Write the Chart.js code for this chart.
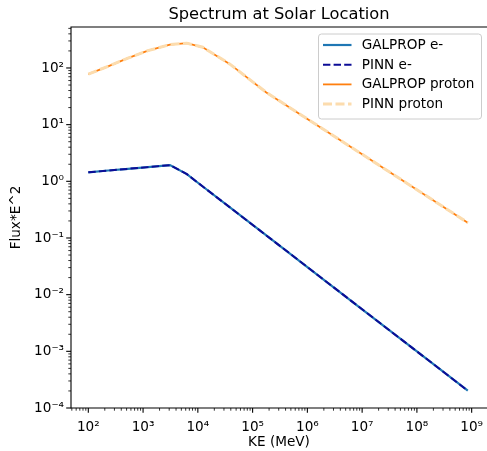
<!DOCTYPE html>
<html>
<head>
<meta charset="utf-8">
<script src="https://cdn.jsdelivr.net/npm/chart.js@4.4.1/dist/chart.umd.min.js"></script>
<style>
  html, body { margin: 0; padding: 0; background: #ffffff; }
  canvas { display: block; }
</style>
</head>
<body>
<canvas id="chart" width="487" height="451"></canvas>
<script>
// kinetic energy grid (MeV)
const energies = [1e2, 2.3e2, 5.3e2, 1.23e3, 3.1e3, 6.3e3, 1.23e4, 3.8e4, 1.78e5, 1e6, 1e7, 1e8, 8.5e8];

// flux * E^2
const galpropElectron = [1.44, 1.55, 1.66, 1.78, 1.93, 1.34, 0.81, 0.35, 0.111, 0.0307, 0.00552, 0.000995, 0.000202];
const pinnElectron = [1.44, 1.55, 1.66, 1.78, 1.93, 1.34, 0.81, 0.35, 0.111, 0.0307, 0.00552, 0.000995, 0.000202];
const galpropProton = [78, 107, 149, 202, 258, 274, 232, 118, 37, 12.6, 3.0, 0.71, 0.186];
const pinnProton = [78, 107, 149, 202, 258, 274, 232, 118, 37, 12.6, 3.0, 0.71, 0.186];

const seriesLabels = ['GALPROP e-', 'PINN e-', 'GALPROP proton', 'PINN proton'];

const xTickValues = [1e2, 1e3, 1e4, 1e5, 1e6, 1e7, 1e8, 1e9];
const yTickValues = [1e-4, 1e-3, 1e-2, 1e-1, 1e0, 1e1, 1e2];

const FONT = 'DejaVu Sans';
Chart.defaults.font.family = FONT;
Chart.defaults.color = '#000000';

// 10^n with a unicode superscript exponent
const SUP = {
  0: '⁰', 1: '¹', 2: '²', 3: '³', 4: '⁴', 5: '⁵', 6: '⁶', 7: '⁷', 8: '⁸', 9: '⁹', '-': '⁻',
};
function powerLabel(value) {
  const exp = Math.round(Math.log10(value));
  return `10${String(exp).split('').map((c) => SUP[c]).join('')}`;
}

const toPoints = (values) => values.map((y, i) => ({ x: energies[i], y }));

// frame + major / minor ticks, matplotlib style
const axisFrame = {
  id: 'axisFrame',
  afterDraw(chart) {
    const {
      ctx, chartArea: {
        left, top, right, bottom,
      }, scales: { x, y },
    } = chart;
    ctx.save();
    ctx.strokeStyle = '#000000';

    const tick = (x1, y1, x2, y2, w) => {
      ctx.lineWidth = w;
      ctx.beginPath();
      ctx.moveTo(x1, y1);
      ctx.lineTo(x2, y2);
      ctx.stroke();
    };

    for (let e = 1; e <= 9; e += 1) {
      for (let m = 1; m <= 9; m += 1) {
        const v = m * 10 ** e;
        if (v >= x.min && v <= x.max) {
          const px = x.getPixelForValue(v);
          if (m === 1) tick(px, bottom, px, bottom + 4.8, 1.1);
          else tick(px, bottom, px, bottom + 2.7, 0.8);
        }
      }
    }
    for (let e = -4; e <= 2; e += 1) {
      for (let m = 1; m <= 9; m += 1) {
        const v = m * 10 ** e;
        if (v >= y.min * 0.999 && v <= y.max) {
          const py = y.getPixelForValue(v);
          if (m === 1) tick(left, py, left - 4.8, py, 1.1);
          else tick(left, py, left - 2.7, py, 0.8);
        }
      }
    }

    ctx.lineWidth = 1.1;
    ctx.beginPath();
    ctx.moveTo(right, top);
    ctx.lineTo(left, top);
    ctx.lineTo(left, bottom);
    ctx.lineTo(right, bottom);
    ctx.stroke();

    // title
    ctx.fillStyle = '#000000';
    ctx.font = `16.3px "${FONT}"`;
    ctx.textAlign = 'center';
    ctx.textBaseline = 'alphabetic';
    ctx.fillText('Spectrum at Solar Location', 279, 19);
    ctx.restore();
  },
};

// hand-drawn legend box
const boxLegend = {
  id: 'boxLegend',
  afterDraw(chart) {
    const { ctx } = chart;
    const x0 = 318.5;
    const y0 = 34;
    const w = 163;
    const h = 85;
    ctx.save();
    ctx.beginPath();
    ctx.roundRect(x0, y0, w, h, 3);
    ctx.fillStyle = 'rgba(255,255,255,0.8)';
    ctx.fill();
    ctx.strokeStyle = '#cccccc';
    ctx.lineWidth = 1;
    ctx.stroke();

    ctx.font = `13.6px "${FONT}"`;
    ctx.textAlign = 'left';
    ctx.textBaseline = 'middle';
    chart.data.datasets.forEach((ds, i) => {
      const ry = 45 + i * 19.7;
      ctx.strokeStyle = ds.borderColor;
      ctx.lineWidth = ds.borderWidth;
      ctx.setLineDash(ds.borderDash || []);
      ctx.beginPath();
      ctx.moveTo(323, ry);
      ctx.lineTo(351.5, ry);
      ctx.stroke();
      ctx.setLineDash([]);
      ctx.fillStyle = '#000000';
      ctx.fillText(ds.label, 361.7, ry + 0.5);
    });
    ctx.restore();
  },
};

const lineDefaults = {
  pointRadius: 0, pointHoverRadius: 0, tension: 0, fill: false,
};

const data = {
  datasets: [
    {
      ...lineDefaults,
      label: seriesLabels[0],
      data: toPoints(galpropElectron),
      borderColor: '#1f77b4',
      borderWidth: 2.2,
      order: 2,
    },
    {
      ...lineDefaults,
      label: seriesLabels[1],
      data: toPoints(pinnElectron),
      borderColor: '#0c0c96',
      borderWidth: 2,
      borderDash: [7.4, 3.2],
      order: 1,
    },
    {
      ...lineDefaults,
      label: seriesLabels[2],
      data: toPoints(galpropProton),
      borderColor: '#ff7f0e',
      borderWidth: 1.8,
      order: 2,
    },
    {
      ...lineDefaults,
      label: seriesLabels[3],
      data: toPoints(pinnProton),
      borderColor: '#fcdcae',
      borderWidth: 3,
      borderDash: [9, 3.5],
      order: 1,
    },
  ],
};

const chart = new Chart(document.getElementById('chart'), {
  type: 'line',
  data,
  options: {
    responsive: false,
    animation: false,
    events: [],
    layout: {
      padding: {
        top: 27, left: 0, right: 0, bottom: 0,
      },
    },
    plugins: {
      legend: { display: false },
      title: { display: false },
      tooltip: { enabled: false },
    },
    scales: {
      x: {
        type: 'logarithmic',
        min: 10 ** 1.684,
        max: 10 ** 9.28,
        grid: { display: false, drawTicks: false },
        border: { display: false },
        afterBuildTicks: (scale) => {
          scale.ticks = xTickValues.map((value) => ({ value }));
        },
        afterFit: (scale) => {
          scale.height = 43;
          scale.paddingLeft = 0;
          scale.paddingRight = 0;
        },
        ticks: {
          autoSkip: false,
          maxRotation: 0,
          padding: 11,
          font: { size: 13.6 },
          callback: (value) => powerLabel(value),
        },
        title: {
          display: true,
          text: 'KE (MeV)',
          font: { size: 13.6 },
          padding: { top: 0, bottom: 0 },
        },
      },
      y: {
        type: 'logarithmic',
        min: 1e-4,
        max: 10 ** 2.723,
        grid: { display: false, drawTicks: false },
        border: { display: false },
        afterBuildTicks: (scale) => {
          scale.ticks = yTickValues.map((value) => ({ value }));
        },
        afterFit: (scale) => {
          scale.width = 71;
          scale.paddingTop = 0;
          scale.paddingBottom = 0;
        },
        ticks: {
          autoSkip: false,
          padding: 7,
          font: { size: 13.6 },
          callback: (value) => powerLabel(value),
        },
        title: {
          display: true,
          text: 'Flux*E^2',
          font: { size: 13.6 },
          padding: { top: 8, bottom: 0 },
        },
      },
    },
  },
  plugins: [axisFrame, boxLegend],
});
</script>
</body>
</html>
